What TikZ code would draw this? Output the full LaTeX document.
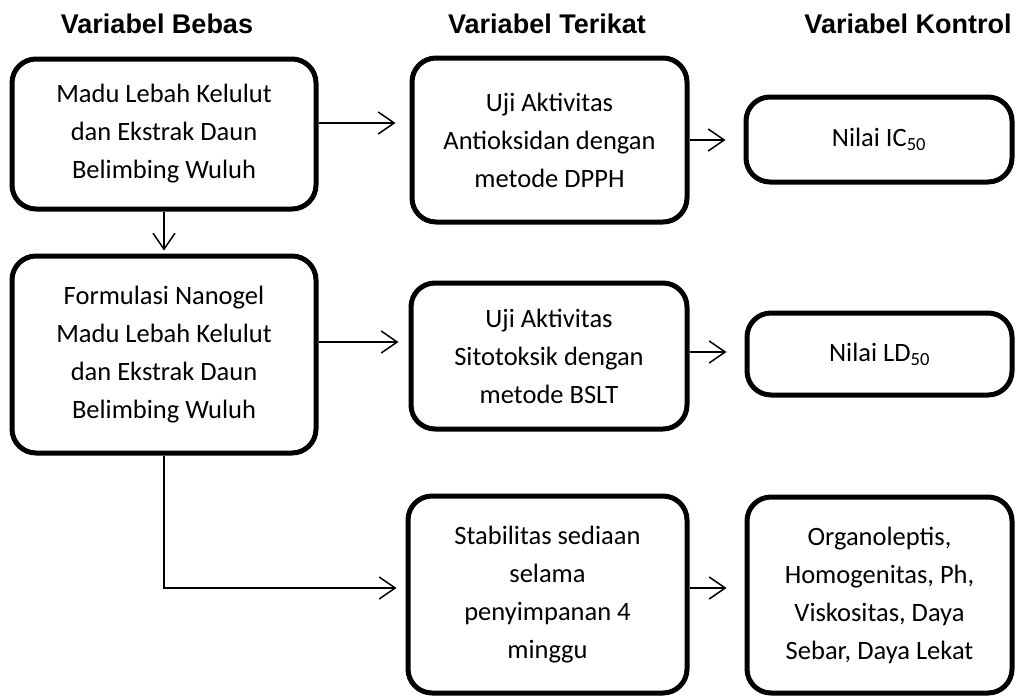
\documentclass[tikz,border=0pt]{standalone}
\usepackage{fontspec}
\setmainfont{Carlito}
\newfontfamily\headfont{Liberation Sans}
\usetikzlibrary{arrows.meta}

\begin{document}
\begin{tikzpicture}[x=1pt,y=-1pt,
    box/.style={draw,line width=5pt,rounded corners=24pt,align=center,inner sep=0pt,
        font=\fontsize{26.5}{38}\selectfont},
    head/.style={anchor=base,font=\headfont\bfseries\fontsize{27}{30}\selectfont},
    arr/.style={-{Straight Barb[length=16pt,width=22pt]},line width=1.5pt}]
        \useasboundingbox (0,0) rectangle (1016,696);
        % column titles
        \node[head] (hbebas) at (157,33) {Variabel Bebas};
        \node[head] (hterikat) at (547,33) {Variabel Terikat};
        \node[head] (hkontrol) at (908,33) {Variabel Kontrol};
        % variabel bebas
        \node[box,minimum width=304pt,minimum height=150pt] (madu) at (164,134)
            {Madu Lebah Kelulut\\dan Ekstrak Daun\\Belimbing Wuluh};
        \node[box,minimum width=304pt,minimum height=197pt] (nano) at (164,354.5)
            {Formulasi Nanogel\\Madu Lebah Kelulut\\dan Ekstrak Daun\\Belimbing Wuluh};
        % variabel terikat
        \node[box,minimum width=275pt,minimum height=164pt] (dpph) at (549.5,140)
            {Uji Aktivitas\\Antioksidan dengan\\metode DPPH};
        \node[box,minimum width=276pt,minimum height=146pt] (bslt) at (549,356)
            {Uji Aktivitas\\Sitotoksik dengan\\metode BSLT};
        \node[box,minimum width=279pt,minimum height=197pt] (stab) at (547.5,594.5)
            {Stabilitas sediaan\\selama\\penyimpanan 4\\minggu};
        % variabel kontrol
        \node[box,minimum width=266pt,minimum height=85pt] (ic) at (879,139.5)
            {Nilai IC\textsubscript{50}};
        \node[box,minimum width=265pt,minimum height=82pt] (ld) at (879.5,354)
            {Nilai LD\textsubscript{50}};
        \node[box,minimum width=265pt,minimum height=196pt] (uji) at (879.5,595)
            {Organoleptis,\\Homogenitas, Ph,\\Viskositas, Daya\\Sebar, Daya Lekat};
        % arrows
        \draw[arr,shorten >=14pt] ([yshift=11pt]madu.east) -- ([yshift=11pt]madu.east -| dpph.west);
        \draw[arr,shorten >=18pt] (dpph.east) -- (dpph.east -| ic.west);
        \draw[arr,shorten >=3pt] (madu.south) -- (nano.north);
        \draw[arr,shorten >=10pt] ([yshift=12.5pt]nano.east) -- ([yshift=12.5pt]nano.east -| bslt.west);
        \draw[arr,shorten >=18pt] ([yshift=4pt]bslt.east) -- ([yshift=4pt]bslt.east -| ld.west);
        \draw[arr,shorten >=9pt] (nano.south) |- ([yshift=6.5pt]stab.west);
        \draw[arr,shorten >=18pt] ([yshift=6.5pt]stab.east) -- ([yshift=6.5pt]stab.east -| uji.west);
    \end{tikzpicture}
\end{document}
